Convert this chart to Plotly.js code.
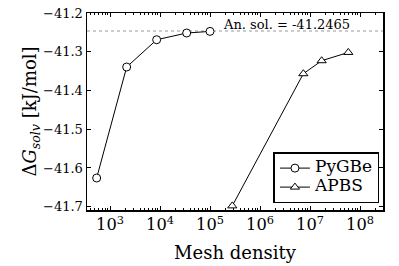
<!DOCTYPE html>
<html>
<head>
<meta charset="utf-8">
<script src="https://cdn.plot.ly/plotly-3.0.1.min.js"></script>
<style>html,body{margin:0;padding:0;background:#fff}#chart{width:399px;height:266px}</style>
</head>
<body>
<div id="chart"></div>
<script>
// Data
const pygbeMesh = [541, 2155, 8580, 34150, 100000];
const pygbeEnergy = [-41.626, -41.3395, -41.269, -41.2517, -41.2475];
const apbsMesh = [279000, 7360000, 17100000, 58400000];
const apbsEnergy = [-41.698, -41.3568, -41.3232, -41.3018];
const analyticalSolution = -41.2465;
const seriesNames = ["PyGBe", "APBS"];
const annotationText = "An. sol. = -41.2465";
const xTitle = "Mesh density";
const yTitle = "Δ<i>G</i><sub><i>solv</i></sub> [kJ/mol]";

const serif = "DejaVu Serif, DejaVu Sans, serif";
const legendName = n => "<span style='font-size:17px'>" + n + "</span>";

const traces = [
  {
    x: pygbeMesh, y: pygbeEnergy, name: legendName(seriesNames[0]),
    mode: "lines+markers", type: "scatter",
    line: {color: "#000", width: 1},
    marker: {symbol: "circle", size: 8, color: "#fff", line: {color: "#000", width: 1}},
    cliponaxis: false
  },
  {
    x: apbsMesh, y: apbsEnergy, name: legendName(seriesNames[1]),
    mode: "lines+markers", type: "scatter",
    line: {color: "#000", width: 1},
    marker: {symbol: "triangle-up", size: 8, color: "#fff", line: {color: "#000", width: 1}},
    cliponaxis: false
  }
];

const layout = {
  width: 399, height: 266,
  margin: {l: 87, r: 16, t: 13, b: 56, pad: 0},
  paper_bgcolor: "#fff", plot_bgcolor: "#fff",
  font: {family: serif, color: "#000", size: 13},
  showlegend: true,
  legend: {
    x: 0.988, y: 0.035, xanchor: "right", yanchor: "bottom",
    bgcolor: "#fff", bordercolor: "#000", borderwidth: 1.5,
    font: {family: serif, size: 11, color: "#000"},
    tracegroupgap: 0, itemwidth: 30
  },
  xaxis: {
    type: "log", range: [2.54, 8.46],
    dtick: 1, exponentformat: "power",
    ticks: "inside", ticklen: 4, tickwidth: 1, tickcolor: "#000",
    minor: {ticks: "inside", ticklen: 2, tickwidth: 1, tickcolor: "#000", dtick: "D1", showgrid: false},
    showline: true, linecolor: "#000", linewidth: 1.5, mirror: "allticks",
    showgrid: false, zeroline: false,
    tickfont: {family: serif, size: 13, color: "#000"},
    title: {text: xTitle, font: {family: serif, size: 18, color: "#000"}, standoff: 13}
  },
  yaxis: {
    range: [-41.7086, -41.2],
    dtick: 0.1, tick0: -41.2, tickformat: ".1f",
    ticks: "inside", ticklen: 4, tickwidth: 1, tickcolor: "#000",
    showline: true, linecolor: "#000", linewidth: 1.5, mirror: "allticks",
    showgrid: false, zeroline: false,
    tickfont: {family: serif, size: 13, color: "#000"},
    title: {text: yTitle, font: {family: serif, size: 18, color: "#000"}, standoff: 1}
  },
  shapes: [{
    type: "line", xref: "paper", x0: 0, x1: 1, yref: "y",
    y0: analyticalSolution, y1: analyticalSolution,
    line: {color: "#999", width: 1, dash: "dot"}, layer: "below"
  }],
  annotations: [{
    xref: "x", yref: "y", x: Math.log10(165000), y: analyticalSolution,
    text: annotationText, showarrow: false, xanchor: "left", yanchor: "bottom",
    yshift: -3, font: {family: serif, size: 13, color: "#000"}
  }]
};

Plotly.newPlot("chart", traces, layout, {displayModeBar: false, staticPlot: true});
</script>
</body>
</html>
